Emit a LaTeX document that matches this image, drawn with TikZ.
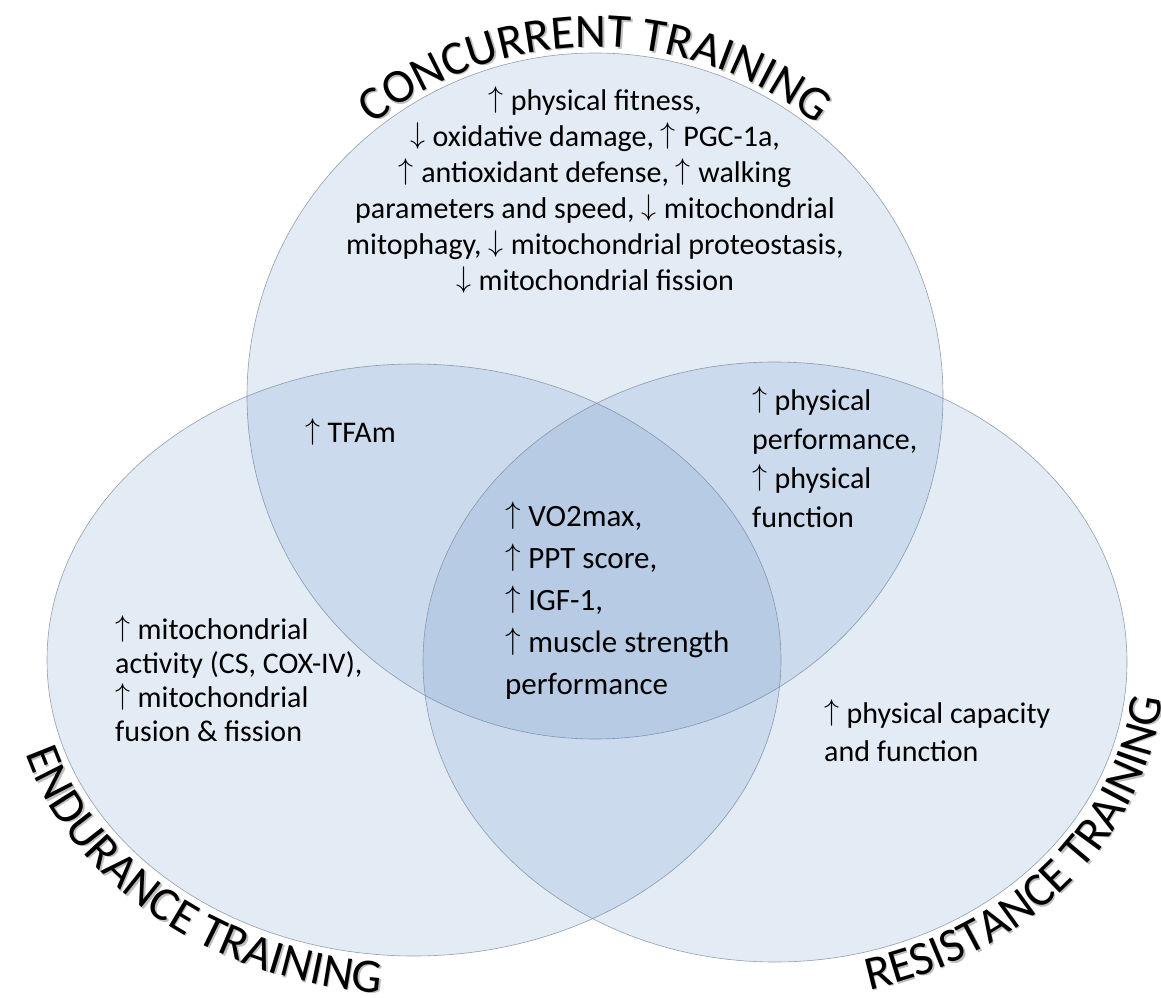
\RequirePackage{fix-cm}
\documentclass[tikz,border=0pt]{standalone}
\usepackage{fontspec}
\setmainfont{Carlito}
\usetikzlibrary{decorations.text}
\definecolor{V1}{RGB}{79,129,189}
\definecolor{L1}{RGB}{118,130,148}
\newcommand{\upar}{\raisebox{0.1em}{$\uparrow$}\kern0.25em}
\newcommand{\dnar}{\raisebox{0.1em}{$\downarrow$}\kern0.25em}
\newcommand{\titlefont}{\fontsize{48}{48}\selectfont}

\begin{document}
\begin{tikzpicture}[x=1pt,y=1pt,
    venn/.style={fill=V1, fill opacity=0.16, draw=L1, draw opacity=0.75, line width=0.6pt},
    effect/.style={inner sep=0pt, align=left, anchor=west, font=\fontsize{30}{36}\selectfont}]
  \useasboundingbox (0,0) rectangle (1161,997);
  % the three training sets
  \path[venn] (595,601) ellipse [x radius=348, y radius=343];
  \path[venn] (414,337) ellipse [x radius=367, y radius=296];
  \path[venn] (775,335) ellipse [x radius=352, y radius=300];

  % curved titles, grey copy first as shadow
  \path[decorate, decoration={text along path, text align=center,
      text={|\titlefont\color{black!25}|CONCURRENT TRAINING}}]
    (596.5,599.5) ++(140:354 and 349) arc[start angle=140, end angle=40, x radius=354, y radius=349];
  \path[decorate, decoration={text along path, text align=center,
      text={|\titlefont|CONCURRENT TRAINING}}]
    (595,601) ++(140:354 and 349) arc[start angle=140, end angle=40, x radius=354, y radius=349];
  \path[decorate, decoration={text along path, text align=center,
      text={|\titlefont\color{black!25}|ENDURANCE TRAINING}}]
    (415.5,335.5) ++(175:405 and 334) arc[start angle=175, end angle=283, x radius=405, y radius=334];
  \path[decorate, decoration={text along path, text align=center,
      text={|\titlefont|ENDURANCE TRAINING}}]
    (414,337) ++(175:405 and 334) arc[start angle=175, end angle=283, x radius=405, y radius=334];
  \path[decorate, decoration={text along path, text align=center,
      text={|\titlefont\color{black!25}|RESISTANCE TRAINING}}]
    (776.5,333.5) ++(269:390 and 338) arc[start angle=269, end angle=371, x radius=390, y radius=338];
  \path[decorate, decoration={text along path, text align=center,
      text={|\titlefont|RESISTANCE TRAINING}}]
    (775,335) ++(269:390 and 338) arc[start angle=269, end angle=371, x radius=390, y radius=338];

  % effects in each region
  \node[effect, anchor=center, align=center] (conc) at (595,807)
    {\upar physical fitness,\\ \dnar oxidative damage, \upar PGC-1a,\\
     \upar antioxidant defense, \upar walking\\ parameters and speed, \dnar mitochondrial\\
     mitophagy, \dnar mitochondrial proteostasis,\\ \dnar mitochondrial fission};
  \node[effect] (conend) at (305,565) {\upar TFAm};
  \node[effect, font=\fontsize{31}{42}\selectfont] (all) at (505,396)
    {\upar VO2max,\\ \upar PPT score,\\ \upar IGF-1,\\ \upar muscle strength\\ performance};
  \node[effect, font=\fontsize{30}{39}\selectfont] (conres) at (752,540)
    {\upar physical\\ performance,\\ \upar physical\\ function};
  \node[effect, font=\fontsize{30}{34}\selectfont] (endur) at (115,318)
    {\upar mitochondrial\\ activity (CS, COX-IV),\\ \upar mitochondrial\\ fusion \& fission};
  \node[effect, font=\fontsize{30}{38}\selectfont] (resist) at (824,266)
    {\upar physical capacity\\ and function};
\end{tikzpicture}
\end{document}
